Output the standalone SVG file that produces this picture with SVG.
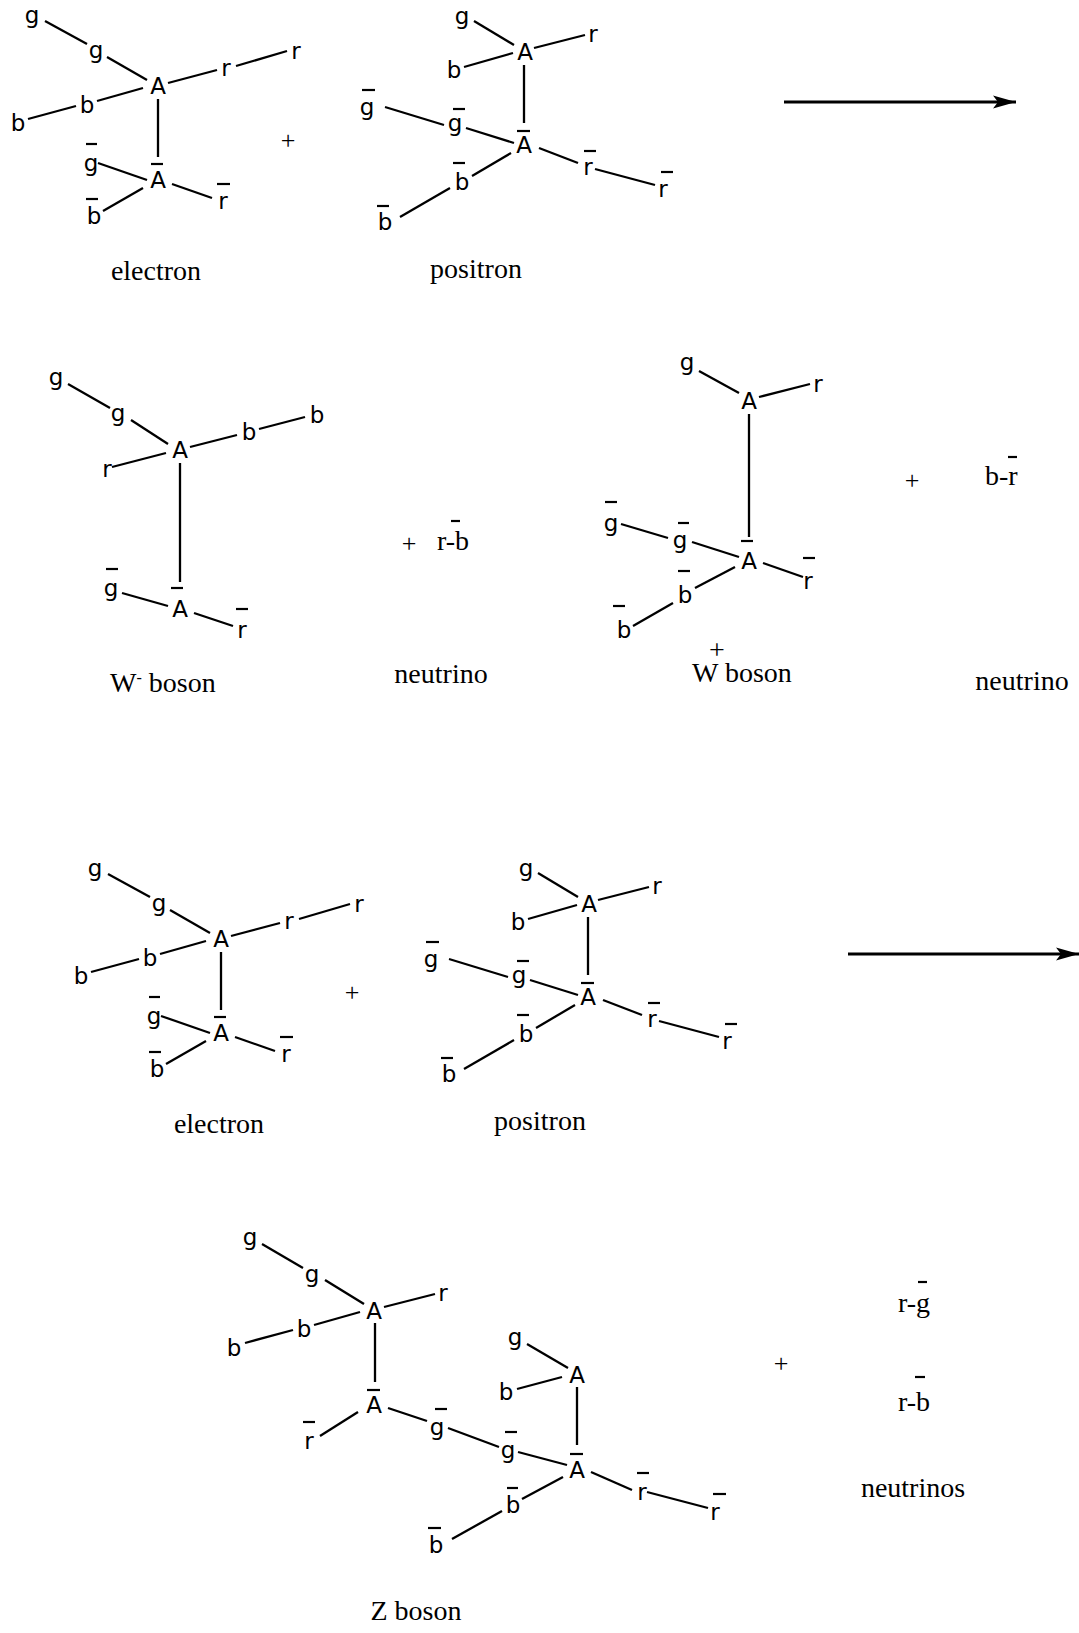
<svg xmlns="http://www.w3.org/2000/svg" width="1079" height="1633" viewBox="0 0 1079 1633">
<style>
.p{font-family:"DejaVu Sans",sans-serif;font-size:23px;text-anchor:middle;fill:#000}
.t{font-family:"Liberation Serif",serif;font-size:28px;fill:#000}
.tm{text-anchor:middle}
.pl{font-family:"Liberation Serif",serif;font-size:26px;text-anchor:middle;fill:#000}
.c line{stroke:#000;stroke-width:2.3}
.bar{stroke:#000;stroke-width:2.2}
.arr{stroke:#000;stroke-width:3;fill:none}
</style>
<defs>
<marker id="ah" markerUnits="userSpaceOnUse" markerWidth="26" markerHeight="16" refX="23" refY="7" orient="auto" viewBox="0 0 26 16">
<path d="M0,0.5 L23,7 L0,13.5 L5,7 z" fill="#000"/>
</marker>
</defs>
<rect width="1079" height="1633" fill="#fff"/>

<!-- Row 1: electron + positron -> -->
<g id="row1">
<g id="electron1">
<g id="e1-g1"><text class="p" x="32" y="23">g</text></g>
<g id="e1-g2"><text class="p" x="96" y="58">g</text></g>
<g id="e1-A"><text class="p" x="158" y="94">A</text></g>
<g id="e1-r1"><text class="p" x="226" y="76">r</text></g>
<g id="e1-r2"><text class="p" x="296" y="59">r</text></g>
<g id="e1-b1"><text class="p" x="87" y="113">b</text></g>
<g id="e1-b2"><text class="p" x="18" y="131">b</text></g>
<g id="e1-Ab"><text class="p" x="158" y="188">A</text><line class="bar" x1="151" y1="164" x2="163" y2="164"/></g>
<g id="e1-gb"><text class="p" x="91" y="171">g</text><line class="bar" x1="86" y1="144" x2="97" y2="144"/></g>
<g id="e1-bb"><text class="p" x="94" y="224">b</text><line class="bar" x1="86" y1="199" x2="98" y2="199"/></g>
<g id="e1-rb"><text class="p" x="223" y="209">r</text><line class="bar" x1="217" y1="184" x2="230" y2="184"/></g>
<g id="e1-label"><text class="t tm" x="156" y="280">electron</text></g>
</g>
<g id="plus1"><text class="pl" x="288" y="149">+</text></g>
<g id="positron1">
<g id="p1-g"><text class="p" x="462" y="24">g</text></g>
<g id="p1-A"><text class="p" x="525" y="60">A</text></g>
<g id="p1-r"><text class="p" x="593" y="42">r</text></g>
<g id="p1-b"><text class="p" x="454" y="78">b</text></g>
<g id="p1-Ab"><text class="p" x="524" y="153">A</text><line class="bar" x1="517" y1="131" x2="530" y2="131"/></g>
<g id="p1-gb1"><text class="p" x="367" y="115">g</text><line class="bar" x1="362" y1="90" x2="375" y2="90"/></g>
<g id="p1-gb2"><text class="p" x="455" y="131">g</text><line class="bar" x1="453" y1="109" x2="465" y2="109"/></g>
<g id="p1-rb1"><text class="p" x="588" y="175">r</text><line class="bar" x1="584" y1="151" x2="596" y2="151"/></g>
<g id="p1-rb2"><text class="p" x="663" y="197">r</text><line class="bar" x1="661" y1="172" x2="673" y2="172"/></g>
<g id="p1-bb1"><text class="p" x="462" y="190">b</text><line class="bar" x1="453" y1="163" x2="465" y2="163"/></g>
<g id="p1-bb2"><text class="p" x="385" y="230">b</text><line class="bar" x1="377" y1="206" x2="389" y2="206"/></g>
<g id="p1-label"><text class="t tm" x="476" y="278">positron</text></g>
</g>
</g>

<!-- Row 2: W- boson + neutrino, W+ boson + neutrino -->
<g id="wminus">
<g id="wm-g1"><text class="p" x="56" y="385">g</text></g>
<g id="wm-g2"><text class="p" x="118" y="421">g</text></g>
<g id="wm-A"><text class="p" x="180" y="458">A</text></g>
<g id="wm-b1"><text class="p" x="249" y="440">b</text></g>
<g id="wm-b2"><text class="p" x="317" y="423">b</text></g>
<g id="wm-r"><text class="p" x="107" y="477">r</text></g>
<g id="wm-Ab"><text class="p" x="180" y="617">A</text><line class="bar" x1="171" y1="588" x2="183" y2="588"/></g>
<g id="wm-gb"><text class="p" x="111" y="596">g</text><line class="bar" x1="106" y1="569" x2="118" y2="569"/></g>
<g id="wm-rb"><text class="p" x="242" y="638">r</text><line class="bar" x1="236" y1="609" x2="248" y2="609"/></g>
<g id="wm-label"><text class="t" x="110" y="692">W<tspan font-size="16" dy="-9">-</tspan><tspan dy="9"> boson</tspan></text></g>
</g>
<g id="plus2"><text class="pl" x="409" y="552">+</text></g>
<g id="neutrino1">
<text class="t" x="437" y="550">r-b</text><line class="bar" x1="451" y1="521" x2="460" y2="521"/>
<text class="t tm" x="441" y="683">neutrino</text>
</g>
<g id="wplus">
<g id="wp-g"><text class="p" x="687" y="370">g</text></g>
<g id="wp-A"><text class="p" x="749" y="409">A</text></g>
<g id="wp-r"><text class="p" x="818" y="392">r</text></g>
<g id="wp-Ab"><text class="p" x="749" y="569">A</text><line class="bar" x1="741" y1="541" x2="753" y2="541"/></g>
<g id="wp-gb1"><text class="p" x="611" y="531">g</text><line class="bar" x1="605" y1="502" x2="617" y2="502"/></g>
<g id="wp-gb2"><text class="p" x="680" y="548">g</text><line class="bar" x1="678" y1="523" x2="689" y2="523"/></g>
<g id="wp-rb"><text class="p" x="808" y="589">r</text><line class="bar" x1="803" y1="558" x2="815" y2="558"/></g>
<g id="wp-bb1"><text class="p" x="685" y="603">b</text><line class="bar" x1="678" y1="571" x2="690" y2="571"/></g>
<g id="wp-bb2"><text class="p" x="624" y="638">b</text><line class="bar" x1="613" y1="606" x2="625" y2="606"/></g>
<g id="wp-label"><text class="t" x="692" y="682">W boson</text><text class="t" font-size="16" x="709" y="659">+</text></g>
</g>
<g id="plus3"><text class="pl" x="912" y="489">+</text></g>
<g id="neutrino2">
<text class="t" x="985" y="485">b-r</text><line class="bar" x1="1008" y1="457" x2="1017" y2="457"/>
<text class="t tm" x="1022" y="690">neutrino</text>
</g>

<!-- Row 3: electron + positron -> (copy of row 1) -->
<g id="electron2" transform="translate(63,853)">
<g id="e2-g1"><text class="p" x="32" y="23">g</text></g>
<g id="e2-g2"><text class="p" x="96" y="58">g</text></g>
<g id="e2-A"><text class="p" x="158" y="94">A</text></g>
<g id="e2-r1"><text class="p" x="226" y="76">r</text></g>
<g id="e2-r2"><text class="p" x="296" y="59">r</text></g>
<g id="e2-b1"><text class="p" x="87" y="113">b</text></g>
<g id="e2-b2"><text class="p" x="18" y="131">b</text></g>
<g id="e2-Ab"><text class="p" x="158" y="188">A</text><line class="bar" x1="151" y1="164" x2="163" y2="164"/></g>
<g id="e2-gb"><text class="p" x="91" y="171">g</text><line class="bar" x1="86" y1="144" x2="97" y2="144"/></g>
<g id="e2-bb"><text class="p" x="94" y="224">b</text><line class="bar" x1="86" y1="199" x2="98" y2="199"/></g>
<g id="e2-rb"><text class="p" x="223" y="209">r</text><line class="bar" x1="217" y1="184" x2="230" y2="184"/></g>
<g id="e2-label"><text class="t tm" x="156" y="280">electron</text></g>
</g>
<g id="plus4"><text class="pl" x="352" y="1001">+</text></g>
<g id="positron2" transform="translate(64,852)">
<g id="p2-g"><text class="p" x="462" y="24">g</text></g>
<g id="p2-A"><text class="p" x="525" y="60">A</text></g>
<g id="p2-r"><text class="p" x="593" y="42">r</text></g>
<g id="p2-b"><text class="p" x="454" y="78">b</text></g>
<g id="p2-Ab"><text class="p" x="524" y="153">A</text><line class="bar" x1="517" y1="131" x2="530" y2="131"/></g>
<g id="p2-gb1"><text class="p" x="367" y="115">g</text><line class="bar" x1="362" y1="90" x2="375" y2="90"/></g>
<g id="p2-gb2"><text class="p" x="455" y="131">g</text><line class="bar" x1="453" y1="109" x2="465" y2="109"/></g>
<g id="p2-rb1"><text class="p" x="588" y="175">r</text><line class="bar" x1="584" y1="151" x2="596" y2="151"/></g>
<g id="p2-rb2"><text class="p" x="663" y="197">r</text><line class="bar" x1="661" y1="172" x2="673" y2="172"/></g>
<g id="p2-bb1"><text class="p" x="462" y="190">b</text><line class="bar" x1="453" y1="163" x2="465" y2="163"/></g>
<g id="p2-bb2"><text class="p" x="385" y="230">b</text><line class="bar" x1="377" y1="206" x2="389" y2="206"/></g>
<g id="p2-label"><text class="t tm" x="476" y="278">positron</text></g>
</g>

<!-- Row 4: Z boson + neutrinos -->
<g id="zboson">
<g id="z-g1"><text class="p" x="250" y="1245">g</text></g>
<g id="z-g2"><text class="p" x="312" y="1282">g</text></g>
<g id="z-A1"><text class="p" x="374" y="1319">A</text></g>
<g id="z-r"><text class="p" x="443" y="1301">r</text></g>
<g id="z-b1"><text class="p" x="304" y="1337">b</text></g>
<g id="z-b2"><text class="p" x="234" y="1356">b</text></g>
<g id="z-Ab1"><text class="p" x="374" y="1413">A</text><line class="bar" x1="367" y1="1390" x2="380" y2="1390"/></g>
<g id="z-rb1"><text class="p" x="309" y="1449">r</text><line class="bar" x1="303" y1="1422" x2="315" y2="1422"/></g>
<g id="z-gb1"><text class="p" x="437" y="1435">g</text><line class="bar" x1="435" y1="1409" x2="447" y2="1409"/></g>
<g id="z-gb2"><text class="p" x="508" y="1458">g</text><line class="bar" x1="505" y1="1432" x2="517" y2="1432"/></g>
<g id="z-g3"><text class="p" x="515" y="1345">g</text></g>
<g id="z-A2"><text class="p" x="577" y="1383">A</text></g>
<g id="z-b3"><text class="p" x="506" y="1400">b</text></g>
<g id="z-Ab2"><text class="p" x="577" y="1478">A</text><line class="bar" x1="570" y1="1454" x2="583" y2="1454"/></g>
<g id="z-rb2"><text class="p" x="642" y="1500">r</text><line class="bar" x1="637" y1="1473" x2="649" y2="1473"/></g>
<g id="z-rb3"><text class="p" x="715" y="1520">r</text><line class="bar" x1="713" y1="1494" x2="726" y2="1494"/></g>
<g id="z-bb1"><text class="p" x="513" y="1513">b</text><line class="bar" x1="507" y1="1488" x2="518" y2="1488"/></g>
<g id="z-bb2"><text class="p" x="436" y="1553">b</text><line class="bar" x1="428" y1="1528" x2="441" y2="1528"/></g>
<g id="z-label"><text class="t tm" x="416" y="1620">Z boson</text></g>
</g>
<g id="plus5"><text class="pl" x="781" y="1372">+</text></g>
<g id="neutrinos">
<text class="t" x="898" y="1312">r-g</text><line class="bar" x1="918" y1="1282" x2="927" y2="1282"/>
<text class="t" x="898" y="1411">r-b</text><line class="bar" x1="915" y1="1377" x2="925" y2="1377"/>
<text class="t tm" x="913" y="1497">neutrinos</text>
</g>

<!-- Connectors -->
<g id="connectors" class="c">
<g id="c-electron1">
<line x1="45" y1="21" x2="87" y2="44"/><line x1="107" y1="57" x2="147" y2="80"/>
<line x1="168" y1="83" x2="217" y2="70"/><line x1="236" y1="66" x2="287" y2="51"/>
<line x1="143" y1="88" x2="97" y2="101"/><line x1="76" y1="106" x2="28" y2="119"/>
<line x1="158" y1="99" x2="158" y2="157"/><line x1="98" y1="163" x2="147" y2="180"/>
<line x1="143" y1="188" x2="103" y2="211"/><line x1="172" y1="184" x2="212" y2="198"/>
</g>
<g id="c-positron1">
<line x1="474" y1="21" x2="514" y2="45"/><line x1="534" y1="48" x2="585" y2="35"/>
<line x1="464" y1="67" x2="513" y2="53"/><line x1="524" y1="65" x2="524" y2="123"/>
<line x1="385" y1="107" x2="444" y2="125"/><line x1="466" y1="128" x2="514" y2="143"/>
<line x1="539" y1="148" x2="578" y2="163"/><line x1="595" y1="169" x2="655" y2="185"/>
<line x1="511" y1="153" x2="472" y2="176"/><line x1="450" y1="188" x2="400" y2="217"/>
</g>
<line class="arr" x1="784" y1="102" x2="1016" y2="102" marker-end="url(#ah)" style="stroke-width:3"/>
<g id="c-wminus">
<line x1="68" y1="384" x2="110" y2="408"/><line x1="131" y1="420" x2="168" y2="444"/>
<line x1="190" y1="447" x2="237" y2="435"/><line x1="259" y1="429" x2="305" y2="417"/>
<line x1="112" y1="467" x2="166" y2="453"/><line x1="180" y1="463" x2="180" y2="582"/>
<line x1="122" y1="593" x2="168" y2="606"/><line x1="194" y1="613" x2="233" y2="626"/>
</g>
<g id="c-wplus">
<line x1="699" y1="371" x2="739" y2="393"/><line x1="759" y1="397" x2="810" y2="384"/>
<line x1="749" y1="414" x2="749" y2="537"/><line x1="621" y1="524" x2="668" y2="538"/>
<line x1="692" y1="542" x2="739" y2="557"/><line x1="763" y1="563" x2="803" y2="577"/>
<line x1="735" y1="567" x2="695" y2="588"/><line x1="673" y1="603" x2="633" y2="626"/>
</g>
<g id="c-electron2" transform="translate(63,853)">
<line x1="45" y1="21" x2="87" y2="44"/><line x1="107" y1="57" x2="147" y2="80"/>
<line x1="168" y1="83" x2="217" y2="70"/><line x1="236" y1="66" x2="287" y2="51"/>
<line x1="143" y1="88" x2="97" y2="101"/><line x1="76" y1="106" x2="28" y2="119"/>
<line x1="158" y1="99" x2="158" y2="157"/><line x1="98" y1="163" x2="147" y2="180"/>
<line x1="143" y1="188" x2="103" y2="211"/><line x1="172" y1="184" x2="212" y2="198"/>
</g>
<g id="c-positron2" transform="translate(64,852)">
<line x1="474" y1="21" x2="514" y2="45"/><line x1="534" y1="48" x2="585" y2="35"/>
<line x1="464" y1="67" x2="513" y2="53"/><line x1="524" y1="65" x2="524" y2="123"/>
<line x1="385" y1="107" x2="444" y2="125"/><line x1="466" y1="128" x2="514" y2="143"/>
<line x1="539" y1="148" x2="578" y2="163"/><line x1="595" y1="169" x2="655" y2="185"/>
<line x1="511" y1="153" x2="472" y2="176"/><line x1="450" y1="188" x2="400" y2="217"/>
</g>
<line class="arr" x1="848" y1="954" x2="1079" y2="954" marker-end="url(#ah)" style="stroke-width:3"/>
<g id="c-zboson">
<line x1="262" y1="1244" x2="303" y2="1268"/><line x1="325" y1="1280" x2="364" y2="1304"/>
<line x1="384" y1="1307" x2="435" y2="1294"/><line x1="360" y1="1312" x2="314" y2="1325"/>
<line x1="293" y1="1330" x2="245" y2="1343"/><line x1="375" y1="1323" x2="375" y2="1382"/>
<line x1="358" y1="1412" x2="320" y2="1436"/><line x1="388" y1="1408" x2="427" y2="1421"/>
<line x1="448" y1="1428" x2="499" y2="1447"/><line x1="527" y1="1344" x2="568" y2="1368"/>
<line x1="517" y1="1389" x2="562" y2="1377"/><line x1="577" y1="1387" x2="577" y2="1445"/>
<line x1="518" y1="1452" x2="567" y2="1465"/><line x1="591" y1="1472" x2="632" y2="1490"/>
<line x1="647" y1="1492" x2="708" y2="1508"/><line x1="563" y1="1477" x2="522" y2="1499"/>
<line x1="502" y1="1511" x2="452" y2="1539"/>
</g>
</g>
</svg>
